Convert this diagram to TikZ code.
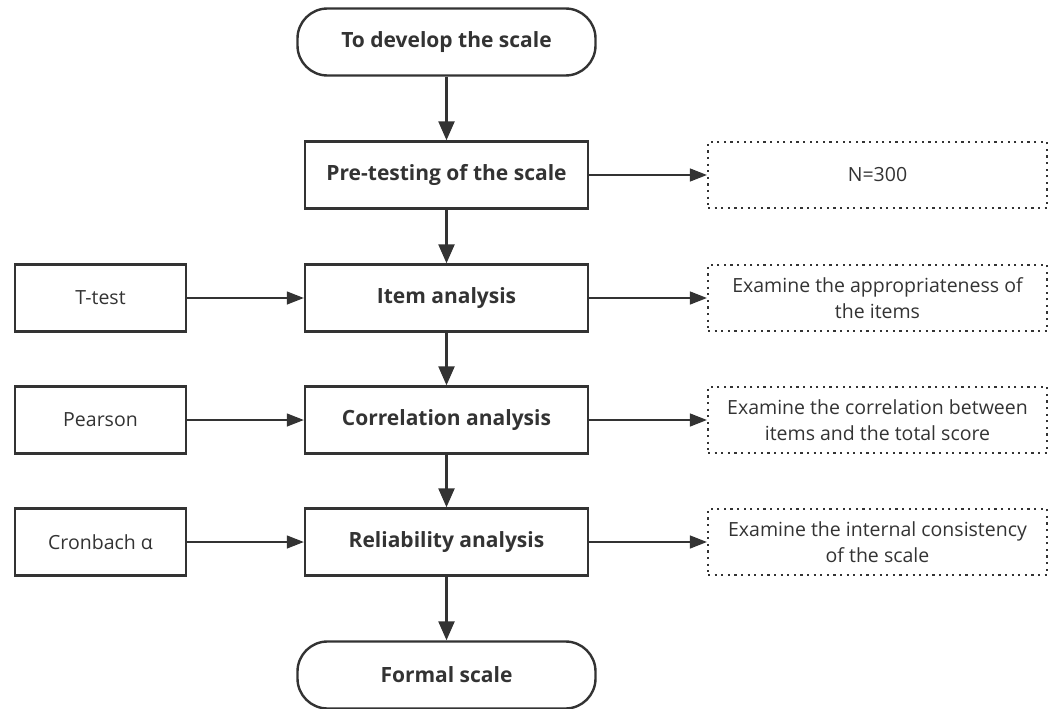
\documentclass[tikz,border=0pt]{standalone}
\usepackage{fontspec}
\setmainfont{Open Sans}
\usetikzlibrary{arrows.meta}
\definecolor{ink}{HTML}{333333}
\begin{document}
\begin{tikzpicture}[x=1pt,y=-1pt,
    every node/.style={text=ink,font=\fontsize{19.5}{25.5}\selectfont},
    mainbox/.style={draw=ink,line width=2.4pt,minimum width=283pt,minimum height=67pt,
      font=\fontsize{21}{25}\selectfont\bfseries},
    endbox/.style={mainbox,rounded corners=30pt,minimum width=298pt},
    sidebox/.style={draw=ink,line width=2.4pt,minimum width=171pt,minimum height=67pt},
    notebox/.style={draw=ink,line width=2.2pt,dash pattern=on 2.2pt off 4.4pt,
      minimum width=339pt,minimum height=66pt,align=center},
    flow/.style={draw=ink,line width=2.4pt,-{Triangle[length=19pt,width=16pt]}},
    link/.style={draw=ink,line width=1.3pt,-{Triangle[length=17pt,width=13pt]}}]
  \useasboundingbox (0,0) rectangle (1049,709);
  \path (446.5,42)  node[endbox]  (start) {To develop the scale}
        (446.5,175) node[mainbox] (pre)   {Pre-testing of the scale}
        (446.5,298) node[mainbox] (item)  {Item analysis}
        (446.5,420) node[mainbox] (corr)  {Correlation analysis}
        (446.5,542) node[mainbox] (rel)   {Reliability analysis}
        (446.5,675) node[endbox]  (final) {Formal scale};
  \path (100.5,298) node[sidebox] (ttest)    {T-test}
        (100.5,420) node[sidebox] (pearson)  {Pearson}
        (100.5,542) node[sidebox] (cronbach) {Cronbach α};
  \path (877.5,175) node[notebox] (sample) {N=300}
        (877.5,298) node[notebox] (fit)    {Examine the appropriateness of\\the items}
        (877.5,420) node[notebox] (total)  {Examine the correlation between\\items and the total score}
        (877.5,542) node[notebox] (consist){Examine the internal consistency\\of the scale};
  \draw[flow] (start) -- (pre);
  \draw[flow] (pre) -- (item);
  \draw[flow] (item) -- (corr);
  \draw[flow] (corr) -- (rel);
  \draw[flow] (rel) -- (final);
  \draw[link] (ttest) -- (item);
  \draw[link] (pearson) -- (corr);
  \draw[link] (cronbach) -- (rel);
  \draw[link] (pre) -- (sample);
  \draw[link] (item) -- (fit);
  \draw[link] (corr) -- (total);
  \draw[link] (rel) -- (consist);
\end{tikzpicture}
\end{document}
